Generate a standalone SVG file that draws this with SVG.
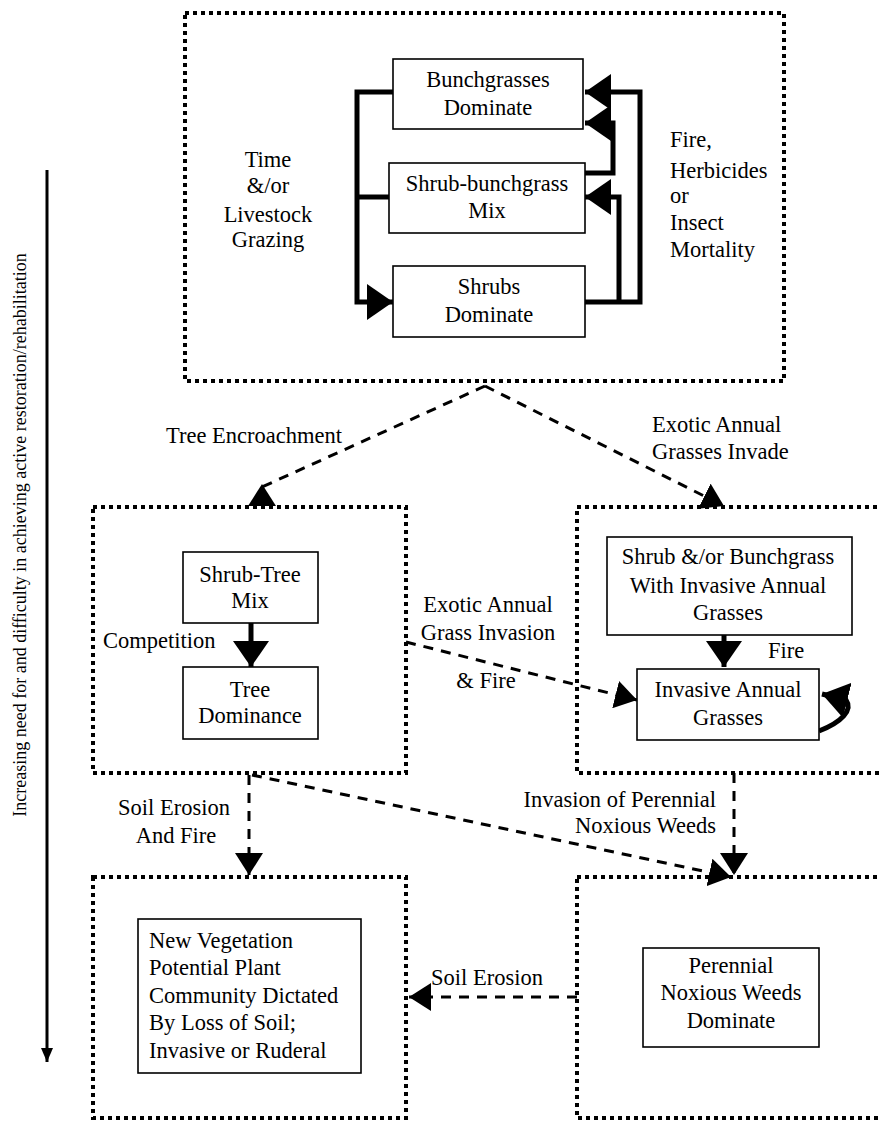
<svg xmlns="http://www.w3.org/2000/svg" width="880" height="1121" viewBox="0 0 880 1121">
<style>
  .region{fill:none;stroke:#000;stroke-width:4;stroke-dasharray:4 4}
  .box{fill:#fff;stroke:#000;stroke-width:1.6}
  .ff{font-family:'Liberation Serif',serif}
  .c{text-anchor:middle}
  .r{text-anchor:end}
  .solid{fill:none;stroke:#000;stroke-width:5}
  .dash{fill:none;stroke:#000;stroke-width:3;stroke-dasharray:10 8}
  .axis{fill:none;stroke:#000;stroke-width:3}
</style>
<defs>
  <marker id="bigHead" viewBox="0 0 26 36" refX="26" refY="18" markerWidth="26" markerHeight="36" markerUnits="userSpaceOnUse" orient="auto">
    <path d="M0,0 L26,18 L0,36 Z" fill="#000"/>
  </marker>
  <marker id="midHead" viewBox="0 0 22 28" refX="22" refY="14" markerWidth="22" markerHeight="28" markerUnits="userSpaceOnUse" orient="auto">
    <path d="M0,0 L22,14 L0,28 Z" fill="#000"/>
  </marker>
  <marker id="smallHead" viewBox="0 0 14 12" refX="14" refY="6" markerWidth="14" markerHeight="12" markerUnits="userSpaceOnUse" orient="auto">
    <path d="M0,0 L14,6 L0,12 Z" fill="#000"/>
  </marker>
</defs>
<rect x="0" y="0" width="880" height="1121" fill="#fff"/>

<g id="axis">
  <path class="axis" d="M47,170 V1062" marker-end="url(#smallHead)"/>
  <text class="ff" font-family="Liberation Serif" font-size="18" transform="translate(26,535) rotate(-90)" text-anchor="middle">Increasing need for and difficulty in achieving active restoration/rehabilitation</text>
</g>

<g id="region-top">
  <rect class="region" x="185" y="13" width="599" height="368"/>
  <text class="ff c" font-family="Liberation Serif" font-size="22.5" x="268" y="167">Time</text>
  <text class="ff c" font-family="Liberation Serif" font-size="22.5" x="268" y="193">&amp;/or</text>
  <text class="ff c" font-family="Liberation Serif" font-size="22.5" x="268" y="222">Livestock</text>
  <text class="ff c" font-family="Liberation Serif" font-size="22.5" x="268" y="247">Grazing</text>
  <text class="ff" font-family="Liberation Serif" font-size="22.5" x="670" y="147">Fire,</text>
  <text class="ff" font-family="Liberation Serif" font-size="22.5" x="670" y="178">Herbicides</text>
  <text class="ff" font-family="Liberation Serif" font-size="22.5" x="670" y="203">or</text>
  <text class="ff" font-family="Liberation Serif" font-size="22.5" x="670" y="230">Insect</text>
  <text class="ff" font-family="Liberation Serif" font-size="22.5" x="670" y="257">Mortality</text>
</g>
<g id="region-mid-left"><rect class="region" x="93" y="507" width="313" height="266"/></g>
<g id="region-mid-right"><rect class="region" x="577" y="507" width="330" height="266"/></g>
<g id="region-bottom-left"><rect class="region" x="93" y="877" width="313" height="241"/></g>
<g id="region-bottom-right"><rect class="region" x="577" y="877" width="330" height="241"/></g>

<g id="connectors">
  <path class="solid" d="M393,92 H357 V302 H393" marker-end="url(#bigHead)"/>
  <path class="solid" d="M389,197 H357"/>
  <path class="solid" d="M585,302 H640 V92 H585" marker-end="url(#bigHead)"/>
  <path class="solid" d="M585,173 H613 V123 H585" marker-end="url(#bigHead)"/>
  <path class="solid" d="M619,302 V197 H585" marker-end="url(#bigHead)"/>
  <path class="solid" d="M251,623 V667" marker-end="url(#bigHead)"/>
  <path class="solid" d="M724,635 V667" marker-end="url(#bigHead)"/>
  <path class="solid" d="M819,731 C842,722 853,710 846,700 L822,694" stroke-width="4" marker-end="url(#bigHead)"/>
  <path class="dash" d="M485,386 L262,487 L262,484" marker-end="url(#midHead)"/>
  <path class="dash" d="M485,386 L724,506" marker-end="url(#midHead)"/>
  <path class="dash" d="M406,642 L637,700" marker-end="url(#midHead)"/>
  <path class="dash" d="M249,775 V875" marker-end="url(#midHead)"/>
  <path class="dash" d="M252,775 L731,877" marker-end="url(#midHead)"/>
  <path class="dash" d="M734,773 V875" marker-end="url(#midHead)"/>
  <path class="dash" d="M577,997 H409" marker-end="url(#midHead)"/>
  <text class="ff c" font-family="Liberation Serif" font-size="22.5" x="254" y="443">Tree Encroachment</text>
  <text class="ff" font-family="Liberation Serif" font-size="22.5" x="652" y="432">Exotic Annual</text>
  <text class="ff" font-family="Liberation Serif" font-size="22.5" x="652" y="459">Grasses Invade</text>
  <text class="ff" font-family="Liberation Serif" font-size="22.5" x="103" y="648">Competition</text>
  <text class="ff c" font-family="Liberation Serif" font-size="22.5" x="488" y="612">Exotic Annual</text>
  <text class="ff c" font-family="Liberation Serif" font-size="22.5" x="488" y="640">Grass Invasion</text>
  <text class="ff c" font-family="Liberation Serif" font-size="22.5" x="486" y="688">&amp; Fire</text>
  <text class="ff" font-family="Liberation Serif" font-size="22.5" x="768" y="658">Fire</text>
  <text class="ff c" font-family="Liberation Serif" font-size="22.5" x="174" y="815">Soil Erosion</text>
  <text class="ff c" font-family="Liberation Serif" font-size="22.5" x="176" y="843">And Fire</text>
  <text class="ff r" font-family="Liberation Serif" font-size="22.5" x="716" y="807">Invasion of Perennial</text>
  <text class="ff r" font-family="Liberation Serif" font-size="22.5" x="716" y="833">Noxious Weeds</text>
  <text class="ff" font-family="Liberation Serif" font-size="22.5" x="431" y="985">Soil Erosion</text>
</g>

<g id="node-bunchgrasses">
  <rect class="box" x="393" y="59" width="190" height="70"/>
  <text class="ff c" font-family="Liberation Serif" font-size="22.5" x="488" y="87">Bunchgrasses</text>
  <text class="ff c" font-family="Liberation Serif" font-size="22.5" x="488" y="115">Dominate</text>
</g>
<g id="node-shrub-bunchgrass">
  <rect class="box" x="389" y="163" width="196" height="70"/>
  <text class="ff c" font-family="Liberation Serif" font-size="22.5" x="487" y="191">Shrub-bunchgrass</text>
  <text class="ff c" font-family="Liberation Serif" font-size="22.5" x="487" y="218">Mix</text>
</g>
<g id="node-shrubs">
  <rect class="box" x="393" y="266" width="192" height="71"/>
  <text class="ff c" font-family="Liberation Serif" font-size="22.5" x="489" y="294">Shrubs</text>
  <text class="ff c" font-family="Liberation Serif" font-size="22.5" x="489" y="322">Dominate</text>
</g>
<g id="node-shrub-tree">
  <rect class="box" x="183" y="552" width="135" height="71"/>
  <text class="ff c" font-family="Liberation Serif" font-size="22.5" x="250" y="582">Shrub-Tree</text>
  <text class="ff c" font-family="Liberation Serif" font-size="22.5" x="250" y="608">Mix</text>
</g>
<g id="node-tree-dominance">
  <rect class="box" x="183" y="667" width="135" height="72"/>
  <text class="ff c" font-family="Liberation Serif" font-size="22.5" x="250" y="697">Tree</text>
  <text class="ff c" font-family="Liberation Serif" font-size="22.5" x="250" y="723">Dominance</text>
</g>
<g id="node-shrub-with-invasive">
  <rect class="box" x="607" y="537" width="245" height="98"/>
  <text class="ff c" font-family="Liberation Serif" font-size="22.5" x="728" y="564">Shrub &amp;/or Bunchgrass</text>
  <text class="ff c" font-family="Liberation Serif" font-size="22.5" x="728" y="593">With Invasive Annual</text>
  <text class="ff c" font-family="Liberation Serif" font-size="22.5" x="728" y="620">Grasses</text>
</g>
<g id="node-invasive-annual">
  <rect class="box" x="637" y="669" width="182" height="71"/>
  <text class="ff c" font-family="Liberation Serif" font-size="22.5" x="728" y="697">Invasive Annual</text>
  <text class="ff c" font-family="Liberation Serif" font-size="22.5" x="728" y="725">Grasses</text>
</g>
<g id="node-new-vegetation">
  <rect class="box" x="138" y="919" width="223" height="154"/>
  <text class="ff" font-family="Liberation Serif" font-size="22.5" x="149" y="948">New Vegetation</text>
  <text class="ff" font-family="Liberation Serif" font-size="22.5" x="149" y="975">Potential Plant</text>
  <text class="ff" font-family="Liberation Serif" font-size="22.5" x="149" y="1003">Community Dictated</text>
  <text class="ff" font-family="Liberation Serif" font-size="22.5" x="149" y="1030">By Loss of Soil;</text>
  <text class="ff" font-family="Liberation Serif" font-size="22.5" x="149" y="1058">Invasive or Ruderal</text>
</g>
<g id="node-perennial-weeds">
  <rect class="box" x="643" y="948" width="176" height="99"/>
  <text class="ff c" font-family="Liberation Serif" font-size="22.5" x="731" y="973">Perennial</text>
  <text class="ff c" font-family="Liberation Serif" font-size="22.5" x="731" y="1000">Noxious Weeds</text>
  <text class="ff c" font-family="Liberation Serif" font-size="22.5" x="731" y="1028">Dominate</text>
</g>
</svg>
